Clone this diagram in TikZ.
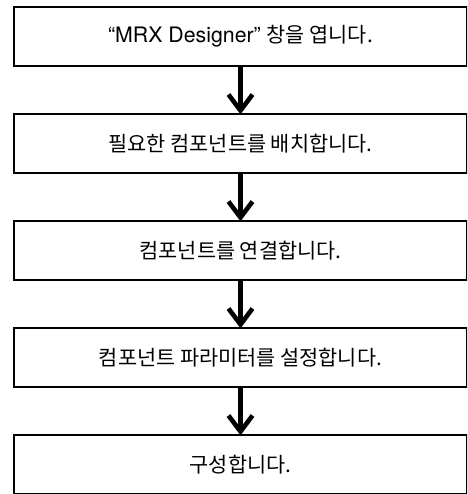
\documentclass[tikz,border=0pt]{standalone}
\usepackage{fontspec}
\setmainfont{TeX Gyre Heros}
\newfontfamily\kr{Noto Sans CJK KR}
\newcommand{\krt}{\kr\fontsize{20.8}{24}\selectfont}
\begin{document}
\begin{tikzpicture}[x=1pt,y=1pt,
  stepbox/.style={draw=black, line width=2pt, minimum width=453pt, minimum height=58.7pt,
    inner sep=0pt, outer sep=0pt, fill=none, font=\fontsize{21.3}{24}\selectfont},
  shaftline/.style={line width=4.6pt, line cap=butt},
  barb/.style={line width=4.6pt, line cap=butt, line join=miter}]
\useasboundingbox (0,0) rectangle (467,494);
\clip (0,0) rectangle (467,494);
\node[stepbox] (b1) at (240.5,457.6) {“MRX Designer” {\krt 창을 엽니다.}};
\node[stepbox] (b2) at (240.5,350.6) {\krt 필요한 컴포넌트를 배치합니다.};
\node[stepbox] (b3) at (240.5,243.6) {\krt 컴포넌트를 연결합니다.};
\node[stepbox] (b4) at (240.5,136.6) {\krt 컴포넌트 파라미터를 설정합니다.};
\node[stepbox] (b5) at (240.5,29.6) {\krt 구성합니다.};
\foreach \a/\b in {b1/b2,b2/b3,b3/b4,b4/b5}{
  \coordinate (v\b) at ([yshift=3.5pt]\b.north);
  \draw[shaftline] (\a.south) -- ([yshift=2pt]v\b);
  \draw[barb] ([shift={(-12,16)}]v\b) -- (v\b) -- ([shift={(12,16)}]v\b);
}
\end{tikzpicture}
\end{document}
